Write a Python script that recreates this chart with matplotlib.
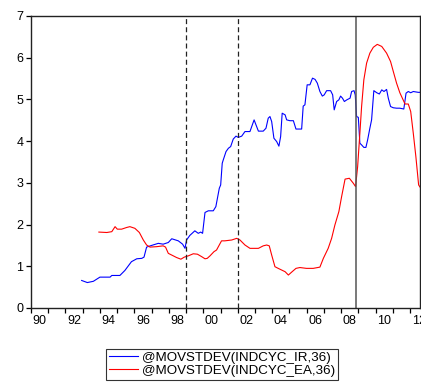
import numpy as np
import matplotlib
matplotlib.use("Agg")
import matplotlib.pyplot as plt
from matplotlib.ticker import FixedLocator, NullFormatter

plt.rcParams['font.family'] = ['Liberation Sans', 'DejaVu Sans']

# --- data (decimal year, value) ---
ir_dates = [1992.94, 1993.27, 1993.62, 1994.0, 1994.59, 1994.69, 1995.16, 1995.45, 1995.83,
            1996.14, 1996.43, 1996.56, 1996.71, 1997.0, 1997.39, 1997.67, 1997.97, 1998.17,
            1998.55, 1998.8, 1998.94, 1999.03, 1999.22, 1999.51, 1999.71, 1999.85, 1999.96,
            2000.1, 2000.29, 2000.58, 2000.73, 2000.93, 2001.01, 2001.1, 2001.16, 2001.32,
            2001.46, 2001.59, 2001.74, 2001.9, 2002.03, 2002.23, 2002.42, 2002.71, 2002.95,
            2003.06, 2003.2, 2003.48, 2003.64, 2003.77, 2003.87, 2003.97, 2004.1, 2004.26,
            2004.39, 2004.49, 2004.58, 2004.75, 2004.84, 2005.03, 2005.23, 2005.38, 2005.71,
            2005.8, 2005.9, 2006.03, 2006.19, 2006.34, 2006.49, 2006.62, 2006.77, 2006.91,
            2007.02, 2007.16, 2007.39, 2007.51, 2007.6, 2007.74, 2007.87, 2007.97, 2008.08,
            2008.19, 2008.33, 2008.52, 2008.61, 2008.75, 2008.82, 2008.9, 2009.0, 2009.09,
            2009.19, 2009.32, 2009.44, 2009.54, 2009.67, 2009.77, 2009.9, 2010.07, 2010.22,
            2010.36, 2010.49, 2010.64, 2010.74, 2010.87, 2011.03, 2011.22, 2011.41, 2011.64,
            2011.77, 2011.9, 2012.04, 2012.19, 2012.48, 2012.58]
ir_values = [0.66, 0.61, 0.64, 0.74, 0.74, 0.78, 0.78, 0.9, 1.11,
             1.18, 1.19, 1.22, 1.46, 1.5, 1.55, 1.53, 1.57, 1.66,
             1.61, 1.53, 1.43, 1.63, 1.74, 1.85, 1.79, 1.82, 1.79,
             2.29, 2.33, 2.33, 2.43, 2.87, 2.95, 3.47, 3.55, 3.75,
             3.83, 3.87, 4.05, 4.12, 4.09, 4.12, 4.23, 4.23, 4.51,
             4.39, 4.24, 4.24, 4.31, 4.55, 4.59, 4.47, 4.07, 3.99,
             3.88, 4.11, 4.67, 4.63, 4.51, 4.49, 4.49, 4.29, 4.29,
             4.84, 4.87, 5.35, 5.35, 5.51, 5.48, 5.39, 5.19, 5.08,
             5.11, 5.21, 5.21, 5.11, 4.75, 4.95, 4.99, 5.08, 5.03,
             4.95, 4.99, 5.03, 5.19, 5.21, 5.11, 4.59, 4.57, 3.95,
             3.91, 3.85, 3.85, 4.03, 4.31, 4.51, 5.21, 5.16, 5.13,
             5.23, 5.19, 5.24, 5.03, 4.83, 4.8, 4.79, 4.79, 4.77,
             5.15, 5.19, 5.16, 5.19, 5.17, 5.17]

ea_dates = [1993.94, 1994.4, 1994.69, 1994.88, 1995.01, 1995.26, 1995.55, 1995.74, 1996.03,
            1996.29, 1996.52, 1996.71, 1996.91, 1997.29, 1997.67, 1997.81, 1997.97, 1998.26,
            1998.45, 1998.7, 1998.9, 1999.13, 1999.42, 1999.66, 1999.91, 2000.1, 2000.23,
            2000.39, 2000.62, 2000.77, 2001.06, 2001.25, 2001.65, 2001.94, 2002.13, 2002.42,
            2002.71, 2003.2, 2003.48, 2003.68, 2003.83, 2003.97, 2004.16, 2004.35, 2004.55,
            2004.75, 2004.94, 2005.13, 2005.38, 2005.61, 2005.99, 2006.38, 2006.77, 2006.97,
            2007.25, 2007.45, 2007.64, 2007.87, 2008.03, 2008.23, 2008.48, 2008.71, 2008.84,
            2008.96, 2009.09, 2009.19, 2009.32, 2009.48, 2009.67, 2009.87, 2010.1, 2010.36,
            2010.64, 2010.87, 2011.03, 2011.22, 2011.41, 2011.6, 2011.71, 2011.9, 2012.04,
            2012.19, 2012.34, 2012.5, 2012.58]
ea_values = [1.82, 1.81, 1.83, 1.95, 1.89, 1.89, 1.93, 1.95, 1.91,
             1.81, 1.63, 1.51, 1.46, 1.47, 1.49, 1.46, 1.31, 1.25,
             1.21, 1.17, 1.22, 1.25, 1.3, 1.29, 1.23, 1.18, 1.19,
             1.25, 1.35, 1.39, 1.61, 1.61, 1.63, 1.67, 1.63, 1.51,
             1.43, 1.43, 1.49, 1.51, 1.49, 1.27, 0.99, 0.95, 0.91,
             0.87, 0.79, 0.86, 0.95, 0.97, 0.95, 0.95, 0.98, 1.19,
             1.43, 1.67, 1.99, 2.31, 2.67, 3.09, 3.11, 2.99, 2.91,
             3.39, 4.19, 4.83, 5.47, 5.87, 6.11, 6.25, 6.32, 6.27,
             6.11, 5.91, 5.67, 5.39, 5.16, 4.99, 4.89, 4.89, 4.71,
             4.19, 3.63, 2.95, 2.9]

dashed_events = [1999.0, 2002.0]
solid_event = 2008.86

years = list(range(1990, 2013))
label_years = list(range(1990, 2013, 2))
tick_labels = ['90', '92', '94', '96', '98', '00', '02', '04', '06', '08', '10', '12']

# --- figure ---
fig = plt.figure(figsize=(4.21, 3.85), dpi=100)
ax = fig.add_axes([31 / 421, 77 / 385, 389 / 421, 292 / 385])

l1, = ax.plot(ir_dates, ir_values, color='#0000ff', lw=0.8)
l2, = ax.plot(ea_dates, ea_values, color='#ff0000', lw=0.8)

for d in dashed_events:
    ax.axvline(d, color='#222222', lw=0.9, ls=(0, (4, 2.5)))
ax.axvline(solid_event, color='#555555', lw=1.1)

ax.set_xlim(1990, 2012.58)
ax.set_ylim(0, 7)
ax.set_yticks(range(8))

# ticks at year starts, labels centred on the year
ax.xaxis.set_major_locator(FixedLocator(years))
ax.xaxis.set_major_formatter(NullFormatter())
ax.set_xticks([y + 0.5 for y in label_years], minor=True)
ax.set_xticklabels(tick_labels, minor=True)
ax.tick_params(axis='x', which='minor', length=0, pad=5, labelsize=9)
ax.tick_params(axis='x', which='major', length=3.5, width=0.9, direction='out')
ax.tick_params(axis='y', length=3.5, width=0.9, direction='out', labelsize=9, pad=2)

for s in ax.spines.values():
    s.set_linewidth(1.0)
    s.set_color('#222222')

leg = fig.legend([l1, l2], ['@MOVSTDEV(INDCYC_IR,36)', '@MOVSTDEV(INDCYC_EA,36)'],
                 loc='upper left', bbox_to_anchor=(106 / 421, 1 - 349 / 385),
                 fontsize=9.6, frameon=True, fancybox=False, borderaxespad=0,
                 borderpad=0.2, labelspacing=0.05, handlelength=2.2,
                 handletextpad=0.3)
leg.get_frame().set_edgecolor('black')
leg.get_frame().set_linewidth(0.8)

fig.savefig('out.png', dpi=100)
